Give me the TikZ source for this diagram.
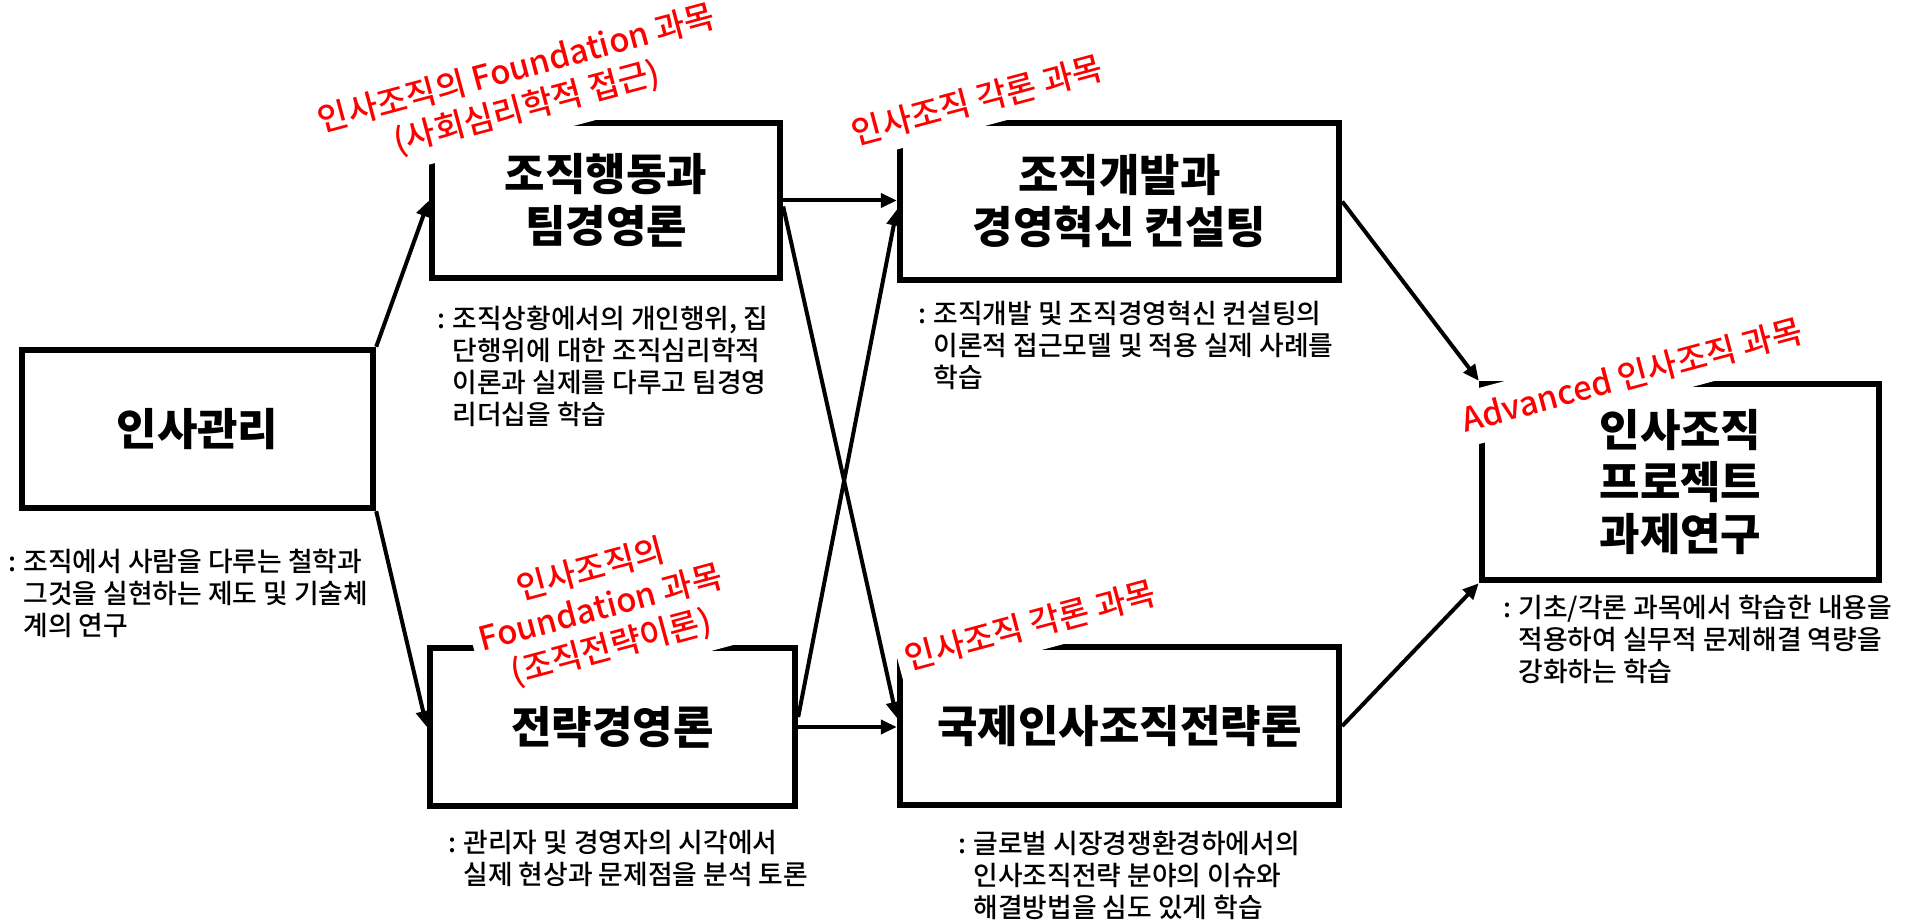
\documentclass[tikz,border=0pt]{standalone}
\usepackage{fontspec}
\setmainfont{Noto Sans CJK KR}
\newfontfamily\medfont{Noto Sans CJK KR Medium}
\usetikzlibrary{arrows.meta,calc}
\definecolor{labred}{RGB}{255,0,0}
\begin{document}
\begin{tikzpicture}[x=0.5pt,y=-0.5pt,
  box/.style={draw, line width=3.2pt, align=center, inner sep=0pt,
    font=\fontsize{22}{26}\selectfont\bfseries},
  lab/.style={fill=white, text=labred, align=center, inner xsep=4pt, inner ysep=6pt,
    rotate=15, font=\medfont\fontsize{16.5}{20}\selectfont},
  desc/.style={anchor=north west, inner sep=0pt, align=left,
    font=\medfont\fontsize{13.4}{16}\selectfont},
  arr/.style={line width=2pt, -{Triangle[length=8pt,width=7pt]}}]
\useasboundingbox (0,0) rectangle (1908,920);
\fill[white] (0,0) rectangle (1908,920);
% boxes
\node[box, minimum width=175.5pt, minimum height=79pt] (b1) at (197.5,429) {인사관리};
\node[box, minimum width=174pt, minimum height=77.5pt] (b2) at (606,200.5) {조직행동과\\팀경영론};
\node[box, minimum width=219.5pt, minimum height=78.5pt] (b3) at (1119.5,201.5) {조직개발과\\경영혁신 컨설팅};
\node[box, minimum width=182.5pt, minimum height=79pt] (b4) at (612.5,727) {전략경영론};
\node[box, minimum width=219.5pt, minimum height=79pt] (b5) at (1119.5,726) {국제인사조직전략론};
\node[box, minimum width=198.5pt, minimum height=98pt] (b6) at (1680.5,482) {인사조직\\프로젝트\\과제연구};
% red labels
\node[lab] (l1) at (522,89) {인사조직의 Foundation 과목\\(사회심리학적 접근)};
\node[lab] (l2) at (977,100) {인사조직 각론 과목};
\node[lab] (l3) at (601,609) {인사조직의\\Foundation 과목\\(조직전략이론)};
\node[lab] (l4) at (1030,625) {인사조직 각론 과목};
\node[lab] (l5) at (1632,375) {Advanced 인사조직 과목};
% arrows
\draw[arr] (b1.north east) -- (b2.west);
\draw[arr] (b1.south east) -- (b4.west);
\draw[arr] (b2.east) -- (b2.east -| b3.west);
\draw[arr] ($(b2.east)+(0,6)$) -- ($(b5.west)+(0,-8)$);
\draw[arr] ($(b4.east)+(0,-10)$) -- ($(b3.west)+(0,8)$);
\draw[arr] (b4.east) -- (b4.east -| b5.west);
\draw[arr] (b3.east) -- (b6.north west);
\draw[arr] (b5.east) -- (b6.south west);
% descriptions
\node[desc] (d1) at (23,549) {\llap{:\hspace{3.5pt}}조직에서 사람을 다루는 철학과\\그것을 실현하는 제도 및 기술체\\계의 연구};
\node[desc] (d2) at (452,306) {\llap{:\hspace{3.5pt}}조직상황에서의 개인행위, 집\\단행위에 대한 조직심리학적\\이론과 실제를 다루고 팀경영\\리더십을 학습};
\node[desc] (d3) at (933,301) {\llap{:\hspace{3.5pt}}조직개발 및 조직경영혁신 컨설팅의\\이론적 접근모델 및 적용 실제 사례를\\학습};
\node[desc] (d4) at (1518,595) {\llap{:\hspace{3.5pt}}기초/각론 과목에서 학습한 내용을\\적용하여 실무적 문제해결 역량을\\강화하는 학습};
\node[desc] (d5) at (463,830) {\llap{:\hspace{3.5pt}}관리자 및 경영자의 시각에서\\실제 현상과 문제점을 분석 토론};
\node[desc] (d6) at (973,831) {\llap{:\hspace{3.5pt}}글로벌 시장경쟁환경하에서의\\인사조직전략 분야의 이슈와\\해결방법을 심도 있게 학습};
\end{tikzpicture}
\end{document}
